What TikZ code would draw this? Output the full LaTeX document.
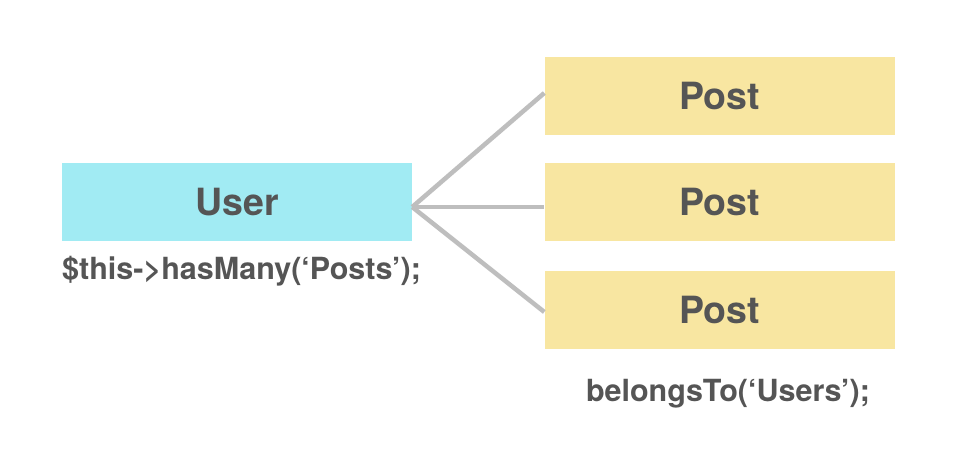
\documentclass[tikz,border=0pt]{standalone}
\usepackage{fontspec}
\setmainfont{TeX Gyre Heros}
\definecolor{usercol}{HTML}{A1EBF3}
\definecolor{postcol}{HTML}{F8E6A1}
\definecolor{txt}{HTML}{555555}
\definecolor{linecol}{HTML}{BEBEBE}
\tikzset{
  box/.style={fill=#1, draw=none, minimum width=350pt, minimum height=78pt, inner sep=0pt,
    font=\fontsize{37.5}{44}\selectfont\bfseries, text=txt},
  conn/.style={draw=linecol, line width=4.5pt},
  lbl/.style={font=\fontsize{30.5}{36}\selectfont\bfseries, text=txt, inner sep=0pt}
}
\begin{document}
\begin{tikzpicture}[x=1pt,y=1pt]
\useasboundingbox[fill=white] (0,0) rectangle (956,462);
\node[box=usercol] (user) at (237,{462-202}) {User};
\node[box=postcol] (p1) at (719.5,{462-96}) {Post};
\node[box=postcol] (p2) at (719.5,{462-202}) {Post};
\node[box=postcol] (p3) at (719.5,{462-310}) {Post};
\coordinate (o) at ([yshift=-5pt]user.east);
\draw[conn] (o) -- ([yshift=3pt]p1.west);
\draw[conn] (o) -- ([yshift=-5pt]p2.west);
\draw[conn] (o) -- ([yshift=-2pt]p3.west);
\node[lbl, anchor=base west] (l1) at (62,{462-280}) {\$this->hasMany(‘Posts’);};
\node[lbl, anchor=base] (l2) at (728,{462-402}) {belongsTo(‘Users’);};
\end{tikzpicture}
\end{document}
